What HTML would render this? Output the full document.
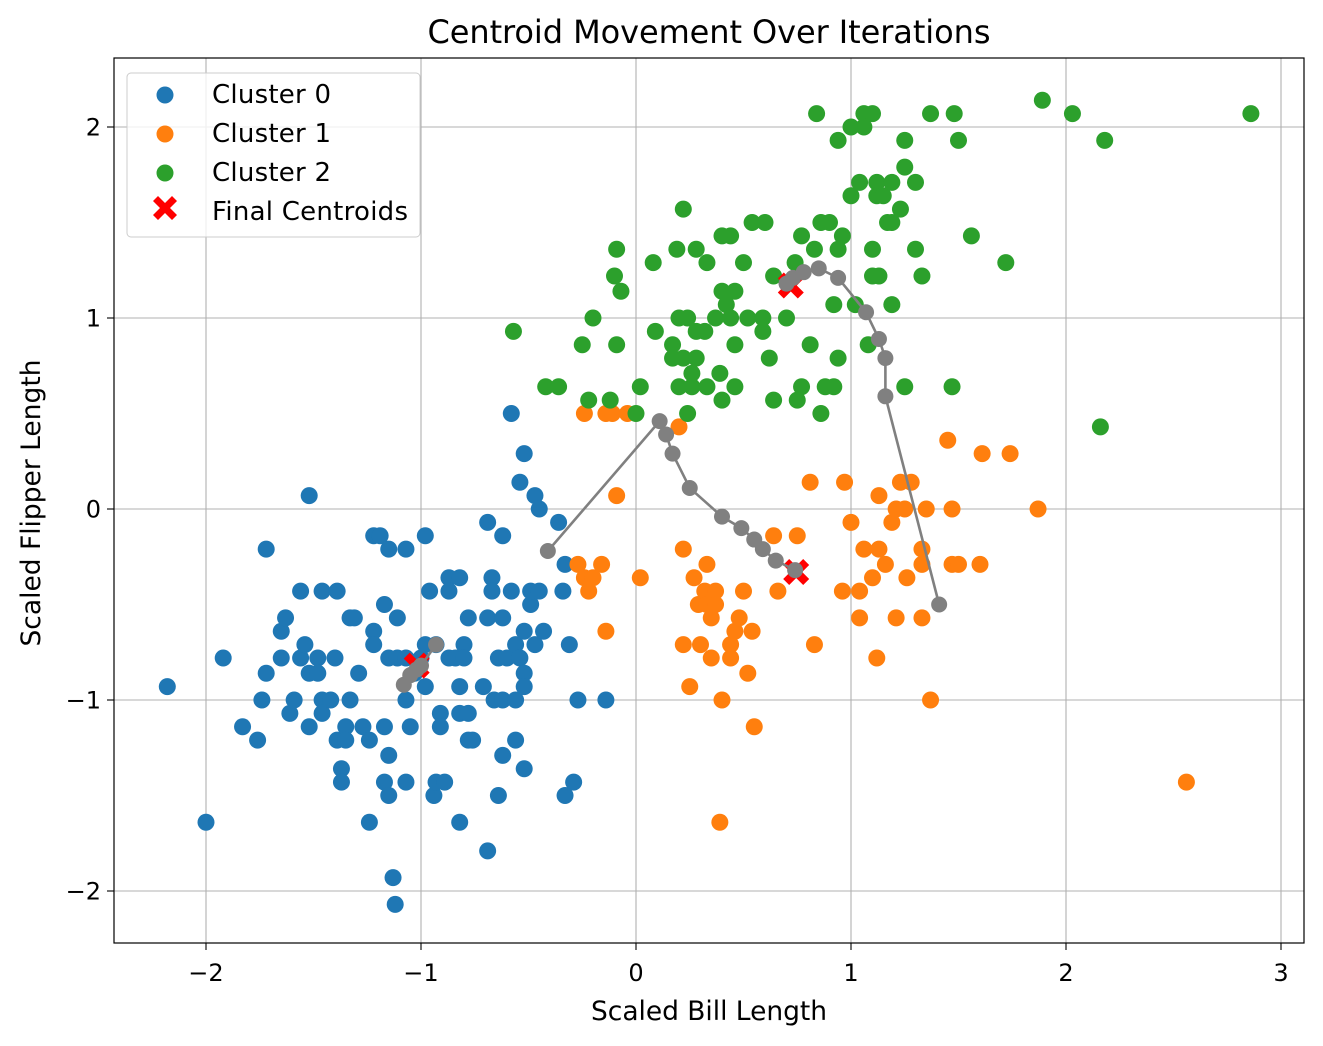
<!DOCTYPE html>
<html><head><meta charset="utf-8"><style>
html,body{margin:0;padding:0;background:#fff;}
svg{display:block;font-family:"DejaVu Sans","Liberation Sans",sans-serif;}
</style></head><body>
<svg id="chart" width="1323" height="1046" viewBox="0 0 1323 1046">
<rect x="0" y="0" width="1323" height="1046" fill="#fff"/>
<g id="grid"></g>
<g id="pts"></g>
<g id="finals"></g>
<g id="paths"></g>
<rect x="114" y="58" width="1190" height="885" fill="none" stroke="#000" stroke-width="1.2"/>
<g id="ticks"></g>
<text x="709" y="43" text-anchor="middle" font-size="32" textLength="563">Centroid Movement Over Iterations</text>
<text x="709" y="1020" text-anchor="middle" font-size="26.5" textLength="236">Scaled Bill Length</text>
<text x="40" y="503" text-anchor="middle" font-size="26.5" textLength="287" transform="rotate(-90 40 503)">Scaled Flipper Length</text>
<g>
<rect x="127" y="73" width="293" height="164" rx="4" fill="#fff" fill-opacity="0.8" stroke="#ccc"/>
<circle cx="165" cy="95" r="8.5" fill="#1f77b4"/>
<text x="212" y="103" font-size="26" textLength="119">Cluster 0</text>
<circle cx="165" cy="134" r="8.5" fill="#ff7f0e"/>
<text x="212" y="142" font-size="26" textLength="119">Cluster 1</text>
<circle cx="165" cy="173" r="8.5" fill="#2ca02c"/>
<text x="212" y="181" font-size="26" textLength="119">Cluster 2</text>
<path d="M153,201 L158,196 L165,203 L172,196 L177,201 L170,208 L177,215 L172,220 L165,213 L158,220 L153,215 L160,208 Z" fill="red"/>
<text x="212" y="220" font-size="26" textLength="196">Final Centroids</text>
</g>
</svg>
<script>
const xTicks=[-2,-1,0,1,2,3];
const yTicks=[-2,-1,0,1,2];
const xTickLabels=["\u22122","\u22121","0","1","2","3"];
const yTickLabels=["\u22122","\u22121","0","1","2"];
const cluster0=[[-2.18,-0.93],[-2.0,-1.64],[-1.92,-0.78],[-1.83,-1.14],[-1.76,-1.21],[-1.74,-1.0],[-1.72,-0.21],[-1.72,-0.86],[-1.65,-0.64],[-1.63,-0.57],[-1.65,-0.78],[-1.61,-1.07],[-1.59,-1.0],[-1.56,-0.43],[-1.56,-0.78],[-1.54,-0.71],[-1.52,0.07],[-1.52,-0.86],[-1.52,-1.14],[-1.48,-0.78],[-1.48,-0.86],[-1.46,-0.43],[-1.46,-1.0],[-1.46,-1.07],[-1.42,-1.0],[-1.40,-0.78],[-1.39,-0.43],[-1.39,-1.21],[-1.37,-1.36],[-1.37,-1.43],[-1.35,-1.14],[-1.35,-1.21],[-1.33,-0.57],[-1.33,-1.0],[-1.31,-0.57],[-1.29,-0.86],[-1.27,-1.14],[-1.24,-1.21],[-1.24,-1.64],[-1.22,-0.14],[-1.22,-0.64],[-1.22,-0.71],[-1.19,-0.14],[-1.17,-0.5],[-1.17,-1.14],[-1.17,-1.43],[-1.15,-0.21],[-1.15,-0.78],[-1.15,-1.29],[-1.15,-1.5],[-1.12,-2.07],[-1.13,-1.93],[-1.11,-0.57],[-1.11,-0.78],[-1.07,-0.21],[-1.07,-0.78],[-1.07,-1.0],[-1.07,-1.43],[-1.05,-1.14],[-1.03,-0.86],[-1.0,-0.78],[-0.98,-0.14],[-0.98,-0.71],[-0.98,-0.93],[-0.96,-0.43],[-0.94,-1.5],[-0.93,-0.71],[-0.93,-1.43],[-0.91,-1.07],[-0.91,-1.14],[-0.89,-1.43],[-0.87,-0.36],[-0.87,-0.78],[-0.87,-0.43],[-0.84,-0.78],[-0.82,-0.36],[-0.82,-0.93],[-0.82,-1.07],[-0.82,-1.64],[-0.80,-0.71],[-0.80,-0.78],[-0.78,-0.57],[-0.78,-1.21],[-0.76,-1.21],[-0.78,-1.07],[-0.71,-0.93],[-0.69,-0.07],[-0.69,-0.57],[-0.69,-1.79],[-0.67,-0.36],[-0.67,-0.43],[-0.66,-1.0],[-0.64,-0.78],[-0.64,-1.5],[-0.62,-0.14],[-0.62,-0.57],[-0.62,-1.0],[-0.62,-1.29],[-0.60,-0.78],[-0.58,0.5],[-0.58,-0.43],[-0.56,-0.71],[-0.56,-1.21],[-0.56,-1.0],[-0.54,0.14],[-0.54,-0.78],[-0.52,0.29],[-0.52,-0.64],[-0.52,-0.86],[-0.52,-0.93],[-0.52,-1.36],[-0.49,-0.5],[-0.49,-0.43],[-0.47,0.07],[-0.47,-0.71],[-0.45,0.0],[-0.45,-0.43],[-0.43,-0.64],[-0.36,-0.07],[-0.34,-0.43],[-0.33,-0.29],[-0.33,-1.5],[-0.31,-0.71],[-0.29,-1.43],[-0.27,-1.0],[-0.14,-1.0]];
const cluster1=[[-0.24,0.5],[-0.14,0.5],[-0.11,0.5],[-0.04,0.5],[-0.09,0.07],[-0.27,-0.29],[-0.24,-0.36],[-0.22,-0.43],[-0.20,-0.36],[-0.16,-0.29],[-0.14,-0.64],[0.02,-0.36],[0.2,0.43],[0.22,-0.21],[0.22,-0.71],[0.25,-0.93],[0.27,-0.36],[0.29,-0.5],[0.3,-0.71],[0.32,-0.43],[0.33,-0.29],[0.33,-0.5],[0.35,-0.57],[0.35,-0.78],[0.37,-0.43],[0.37,-0.5],[0.39,-1.64],[0.4,-1.0],[0.44,-0.71],[0.44,-0.78],[0.46,-0.64],[0.48,-0.57],[0.5,-0.43],[0.52,-0.86],[0.54,-0.64],[0.55,-1.14],[0.64,-0.14],[0.66,-0.43],[0.75,-0.14],[0.81,0.14],[0.83,-0.71],[0.96,-0.43],[0.97,0.14],[1.0,-0.07],[1.04,-0.57],[1.04,-0.43],[1.06,-0.21],[1.10,-0.36],[1.12,-0.78],[1.13,0.07],[1.13,-0.21],[1.16,-0.29],[1.19,-0.07],[1.21,0.0],[1.21,-0.57],[1.23,0.14],[1.25,0.0],[1.26,-0.36],[1.28,0.14],[1.33,-0.57],[1.33,-0.21],[1.33,-0.29],[1.35,0.0],[1.37,-1.0],[1.45,0.36],[1.47,0.0],[1.47,-0.29],[1.5,-0.29],[1.6,-0.29],[1.61,0.29],[1.74,0.29],[1.87,0.0],[2.56,-1.43]];
const cluster2=[[-0.57,0.93],[-0.42,0.64],[-0.36,0.64],[-0.25,0.86],[-0.22,0.57],[-0.2,1.0],[-0.12,0.57],[-0.1,1.22],[-0.09,1.36],[-0.09,0.86],[-0.07,1.14],[0.0,0.5],[0.02,0.64],[0.08,1.29],[0.09,0.93],[0.17,0.86],[0.17,0.79],[0.19,1.36],[0.2,1.0],[0.2,0.64],[0.22,1.57],[0.22,0.79],[0.24,1.0],[0.24,0.5],[0.26,0.71],[0.26,0.64],[0.28,1.36],[0.28,0.93],[0.28,0.79],[0.32,0.93],[0.33,1.29],[0.33,0.64],[0.37,1.0],[0.39,0.71],[0.4,1.43],[0.4,1.14],[0.4,0.57],[0.42,1.07],[0.44,1.0],[0.44,1.43],[0.46,0.86],[0.46,1.14],[0.46,0.64],[0.5,1.29],[0.52,1.0],[0.54,1.5],[0.59,1.0],[0.59,0.93],[0.6,1.5],[0.62,0.79],[0.64,1.22],[0.64,0.57],[0.7,1.0],[0.74,1.29],[0.75,0.57],[0.77,1.43],[0.77,0.64],[0.81,0.86],[0.83,1.36],[0.84,2.07],[0.86,0.5],[0.86,1.5],[0.88,0.64],[0.9,1.5],[0.92,0.64],[0.92,1.07],[0.94,1.93],[0.94,1.36],[0.94,0.79],[0.96,1.43],[1.0,2.0],[1.0,1.64],[1.02,1.07],[1.04,1.71],[1.06,2.07],[1.06,2.0],[1.08,0.86],[1.10,2.07],[1.10,1.36],[1.10,1.22],[1.12,1.71],[1.12,1.64],[1.13,1.22],[1.15,1.64],[1.17,1.5],[1.19,1.71],[1.19,1.5],[1.19,1.07],[1.23,1.57],[1.25,1.93],[1.25,1.79],[1.25,0.64],[1.30,1.71],[1.30,1.36],[1.33,1.22],[1.37,2.07],[1.47,0.64],[1.48,2.07],[1.5,1.93],[1.56,1.43],[1.72,1.29],[1.89,2.14],[2.03,2.07],[2.18,1.93],[2.16,0.43],[2.86,2.07]];
const path0=[[-0.93,-0.71],[-1.0,-0.82],[-1.02,-0.84],[-1.05,-0.87],[-1.08,-0.92]];
const path1=[[-0.41,-0.22],[0.11,0.46],[0.14,0.39],[0.17,0.29],[0.25,0.11],[0.40,-0.04],[0.49,-0.1],[0.55,-0.16],[0.59,-0.21],[0.65,-0.27],[0.74,-0.32]];
const path2=[[1.41,-0.5],[1.16,0.59],[1.16,0.79],[1.13,0.89],[1.07,1.03],[0.94,1.21],[0.85,1.26],[0.78,1.24],[0.73,1.21],[0.70,1.18]];
const finalCentroids=[[-1.02,-0.82],[0.745,-0.33],[0.72,1.17]];

const NS="http://www.w3.org/2000/svg";
const X=v=>636+v*215, Y=v=>509-v*191;
function mk(tag,attrs,parent){const e=document.createElementNS(NS,tag);for(const k in attrs)e.setAttribute(k,attrs[k]);parent.appendChild(e);return e;}
const grid=document.getElementById('grid'),ticks=document.getElementById('ticks');
xTicks.forEach((t,i)=>{
  const l=mk('line',{x1:X(t),x2:X(t),y1:58,y2:943,stroke:'#b0b0b0','stroke-width':1.1},grid);
  
  
  const tk=mk('line',{x1:X(t),x2:X(t),y1:943,y2:950,stroke:'#000','stroke-width':1.1},ticks);
  
  
  const tx=mk('text',{x:X(t),y:981,'text-anchor':'middle','font-size':24},ticks);
  tx.textContent=xTickLabels[i];
  
  
});
yTicks.forEach((t,i)=>{
  const l=mk('line',{x1:114,x2:1304,y1:Y(t),y2:Y(t),stroke:'#b0b0b0','stroke-width':1.1},grid);
  
  
  const tk=mk('line',{x1:107,x2:114,y1:Y(t),y2:Y(t),stroke:'#000','stroke-width':1.1},ticks);
  
  
  const tx=mk('text',{x:101,y:Y(t)+8.5,'text-anchor':'end','font-size':24},ticks);
  tx.textContent=yTickLabels[i];
  
  
});
const pts=document.getElementById('pts');
[[cluster0,'#1f77b4'],[cluster1,'#ff7f0e'],[cluster2,'#2ca02c']].forEach(([arr,c],ci)=>{
  arr.forEach(p=>{
    const e=mk('circle',{cx:X(p[0]),cy:Y(p[1]),r:8.5,fill:c},pts);
    
    
  });
});
const fin=document.getElementById('finals');
finalCentroids.forEach(p=>{
  const cx=X(p[0]),cy=Y(p[1]);
  const e=mk('path',{d:`M${cx-13},${cy-7} L${cx-7},${cy-13} L${cx},${cy-6} L${cx+7},${cy-13} L${cx+13},${cy-7} L${cx+6},${cy} L${cx+13},${cy+7} L${cx+7},${cy+13} L${cx},${cy+6} L${cx-7},${cy+13} L${cx-13},${cy+7} L${cx-6},${cy} Z`,fill:'red'},fin);
  
  
});
const pg=document.getElementById('paths');
[path0,path1,path2].forEach((arr,pi)=>{
  const l=mk('polyline',{points:arr.map(p=>X(p[0])+','+Y(p[1])).join(' '),fill:'none',stroke:'#808080','stroke-width':2.6},pg);
  
  
  arr.forEach(p=>{
    const c=mk('circle',{cx:X(p[0]),cy:Y(p[1]),r:8,fill:'#808080'},pg);
    
    
  });
});
</script>
</body></html>
